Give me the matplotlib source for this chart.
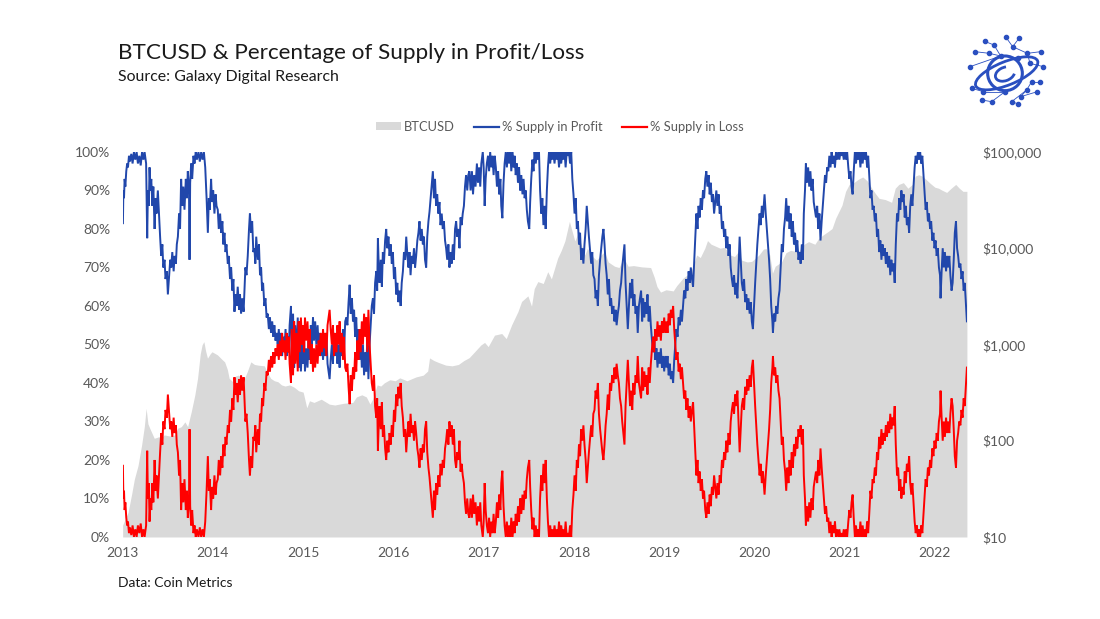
import matplotlib
matplotlib.use("Agg")
from matplotlib import pyplot as plt
from matplotlib.patches import Patch, Ellipse, Circle, Arc
from matplotlib.lines import Line2D

plt.rcParams['font.family'] = ['Lato', 'DejaVu Sans']

# ---- data ----
# time in fractional years, % of supply in profit / loss
t_pct = [
    2013.003, 2013.008, 2013.015, 2013.022, 2013.030, 2013.040, 2013.050, 2013.059, 2013.070, 2013.080,
    2013.096, 2013.110, 2013.125, 2013.140, 2013.155, 2013.169, 2013.185, 2013.200, 2013.215, 2013.230,
    2013.243, 2013.260, 2013.272, 2013.280, 2013.290, 2013.298, 2013.308, 2013.317, 2013.330, 2013.340,
    2013.354, 2013.365, 2013.375, 2013.390, 2013.400, 2013.415, 2013.427, 2013.440, 2013.450, 2013.464,
    2013.475, 2013.490, 2013.501, 2013.515, 2013.527, 2013.538, 2013.550, 2013.565, 2013.575, 2013.590,
    2013.600, 2013.612, 2013.625, 2013.636, 2013.648, 2013.660, 2013.672, 2013.685, 2013.700, 2013.712,
    2013.722, 2013.735, 2013.741, 2013.748, 2013.759, 2013.770, 2013.785, 2013.796, 2013.810, 2013.822,
    2013.840, 2013.855, 2013.870, 2013.885, 2013.900, 2013.915, 2013.930, 2013.944, 2013.955, 2013.965,
    2013.980, 2013.990, 2014.003, 2014.017, 2014.030, 2014.040, 2014.054, 2014.065, 2014.080, 2014.091,
    2014.105, 2014.115, 2014.128, 2014.140, 2014.150, 2014.165, 2014.175, 2014.190, 2014.202, 2014.215,
    2014.227, 2014.239, 2014.250, 2014.262, 2014.275, 2014.290, 2014.300, 2014.312, 2014.325, 2014.340,
    2014.349, 2014.360, 2014.372, 2014.386, 2014.400, 2014.410, 2014.423, 2014.435, 2014.448, 2014.460,
    2014.470, 2014.480, 2014.497, 2014.510, 2014.522, 2014.534, 2014.545, 2014.556, 2014.570, 2014.582,
    2014.595, 2014.607, 2014.620, 2014.632, 2014.644, 2014.657, 2014.670, 2014.681, 2014.694, 2014.706,
    2014.718, 2014.730, 2014.742, 2014.755, 2014.767, 2014.780, 2014.792, 2014.805, 2014.817, 2014.828,
    2014.840, 2014.850, 2014.865, 2014.873, 2014.888, 2014.900, 2014.912, 2014.925, 2014.940, 2014.950,
    2014.962, 2014.975, 2014.988, 2014.998, 2015.010, 2015.020, 2015.035, 2015.048, 2015.060, 2015.072,
    2015.085, 2015.097, 2015.109, 2015.120, 2015.133, 2015.146, 2015.160, 2015.172, 2015.183, 2015.195,
    2015.208, 2015.220, 2015.233, 2015.245, 2015.257, 2015.270, 2015.282, 2015.293, 2015.305, 2015.318,
    2015.330, 2015.342, 2015.355, 2015.367, 2015.380, 2015.392, 2015.404, 2015.416, 2015.429, 2015.441,
    2015.453, 2015.466, 2015.478, 2015.490, 2015.503, 2015.515, 2015.527, 2015.540, 2015.552, 2015.564,
    2015.576, 2015.588, 2015.600, 2015.612, 2015.625, 2015.637, 2015.650, 2015.662, 2015.675, 2015.687,
    2015.699, 2015.711, 2015.723, 2015.736, 2015.748, 2015.760, 2015.773, 2015.785, 2015.797, 2015.810,
    2015.820, 2015.828, 2015.838, 2015.847, 2015.860, 2015.872, 2015.883, 2015.895, 2015.908, 2015.920,
    2015.932, 2015.945, 2015.957, 2015.970, 2015.982, 2015.994, 2016.006, 2016.018, 2016.031, 2016.043,
    2016.055, 2016.068, 2016.080, 2016.092, 2016.105, 2016.117, 2016.130, 2016.142, 2016.155, 2016.167,
    2016.178, 2016.190, 2016.203, 2016.215, 2016.228, 2016.240, 2016.252, 2016.265, 2016.277, 2016.289,
    2016.301, 2016.314, 2016.326, 2016.338, 2016.350, 2016.363, 2016.375, 2016.388, 2016.400, 2016.412,
    2016.425, 2016.437, 2016.449, 2016.461, 2016.473, 2016.485, 2016.498, 2016.510, 2016.522, 2016.535,
    2016.547, 2016.559, 2016.572, 2016.584, 2016.596, 2016.609, 2016.621, 2016.633, 2016.645, 2016.658,
    2016.670, 2016.683, 2016.695, 2016.707, 2016.720, 2016.732, 2016.744, 2016.756, 2016.768, 2016.781,
    2016.793, 2016.805, 2016.818, 2016.830, 2016.842, 2016.855, 2016.870, 2016.882, 2016.895, 2016.910,
    2016.925, 2016.937, 2016.950, 2016.962, 2016.974, 2016.990, 2017.000, 2017.011, 2017.022, 2017.035,
    2017.048, 2017.060, 2017.072, 2017.085, 2017.097, 2017.110, 2017.122, 2017.135, 2017.147, 2017.160,
    2017.172, 2017.185, 2017.195, 2017.207, 2017.220, 2017.232, 2017.245, 2017.257, 2017.269, 2017.282,
    2017.295, 2017.306, 2017.320, 2017.332, 2017.343, 2017.355, 2017.368, 2017.380, 2017.392, 2017.405,
    2017.417, 2017.430, 2017.442, 2017.454, 2017.466, 2017.478, 2017.490, 2017.505, 2017.515, 2017.527,
    2017.540, 2017.552, 2017.564, 2017.577, 2017.590, 2017.601, 2017.613, 2017.625, 2017.638, 2017.650,
    2017.662, 2017.675, 2017.687, 2017.700, 2017.712, 2017.724, 2017.737, 2017.749, 2017.761, 2017.773,
    2017.785, 2017.797, 2017.810, 2017.822, 2017.835, 2017.847, 2017.859, 2017.872, 2017.884, 2017.896,
    2017.908, 2017.920, 2017.933, 2017.945, 2017.957, 2017.970, 2017.982, 2017.995, 2018.007, 2018.020,
    2018.032, 2018.044, 2018.056, 2018.068, 2018.080, 2018.092, 2018.105, 2018.117, 2018.130, 2018.142,
    2018.154, 2018.166, 2018.180, 2018.191, 2018.203, 2018.215, 2018.228, 2018.240, 2018.252, 2018.265,
    2018.277, 2018.290, 2018.302, 2018.315, 2018.327, 2018.339, 2018.351, 2018.363, 2018.375, 2018.388,
    2018.400, 2018.412, 2018.424, 2018.437, 2018.449, 2018.461, 2018.473, 2018.486, 2018.498, 2018.510,
    2018.523, 2018.535, 2018.547, 2018.560, 2018.572, 2018.585, 2018.597, 2018.610, 2018.622, 2018.634,
    2018.646, 2018.658, 2018.670, 2018.683, 2018.695, 2018.707, 2018.720, 2018.732, 2018.744, 2018.756,
    2018.767, 2018.780, 2018.792, 2018.803, 2018.815, 2018.828, 2018.840, 2018.852, 2018.865, 2018.877,
    2018.889, 2018.902, 2018.914, 2018.926, 2018.938, 2018.951, 2018.963, 2018.975, 2018.988, 2019.000,
    2019.012, 2019.025, 2019.037, 2019.050, 2019.062, 2019.074, 2019.087, 2019.099, 2019.111, 2019.123,
    2019.135, 2019.148, 2019.160, 2019.172, 2019.185, 2019.197, 2019.209, 2019.221, 2019.234, 2019.246,
    2019.258, 2019.271, 2019.283, 2019.295, 2019.308, 2019.320, 2019.333, 2019.345, 2019.357, 2019.369,
    2019.381, 2019.393, 2019.405, 2019.418, 2019.430, 2019.442, 2019.455, 2019.467, 2019.479, 2019.492,
    2019.504, 2019.516, 2019.529, 2019.541, 2019.553, 2019.566, 2019.578, 2019.590, 2019.603, 2019.615,
    2019.627, 2019.640, 2019.652, 2019.664, 2019.676, 2019.688, 2019.700, 2019.713, 2019.725, 2019.737,
    2019.750, 2019.762, 2019.774, 2019.786, 2019.799, 2019.811, 2019.823, 2019.836, 2019.848, 2019.860,
    2019.873, 2019.885, 2019.897, 2019.910, 2019.922, 2019.934, 2019.947, 2019.959, 2019.971, 2019.983,
    2019.995, 2020.008, 2020.020, 2020.032, 2020.045, 2020.057, 2020.069, 2020.082, 2020.094, 2020.112,
    2020.125, 2020.137, 2020.150, 2020.162, 2020.174, 2020.186, 2020.199, 2020.205, 2020.217, 2020.230,
    2020.242, 2020.254, 2020.266, 2020.278, 2020.290, 2020.303, 2020.315, 2020.327, 2020.340, 2020.352,
    2020.364, 2020.377, 2020.389, 2020.401, 2020.413, 2020.426, 2020.438, 2020.450, 2020.463, 2020.475,
    2020.488, 2020.500, 2020.512, 2020.525, 2020.537, 2020.547, 2020.560, 2020.570, 2020.582, 2020.595,
    2020.607, 2020.620, 2020.632, 2020.645, 2020.657, 2020.670, 2020.682, 2020.695, 2020.707, 2020.720,
    2020.732, 2020.745, 2020.757, 2020.770, 2020.782, 2020.794, 2020.806, 2020.818, 2020.830, 2020.843,
    2020.855, 2020.867, 2020.880, 2020.892, 2020.904, 2020.916, 2020.929, 2020.941, 2020.953, 2020.966,
    2020.978, 2020.990, 2021.003, 2021.015, 2021.027, 2021.040, 2021.052, 2021.064, 2021.076, 2021.088,
    2021.100, 2021.113, 2021.125, 2021.137, 2021.150, 2021.162, 2021.174, 2021.187, 2021.199, 2021.211,
    2021.223, 2021.236, 2021.248, 2021.260, 2021.272, 2021.285, 2021.297, 2021.309, 2021.321, 2021.334,
    2021.346, 2021.358, 2021.370, 2021.382, 2021.395, 2021.407, 2021.419, 2021.431, 2021.444, 2021.456,
    2021.468, 2021.480, 2021.493, 2021.505, 2021.517, 2021.529, 2021.541, 2021.554, 2021.566, 2021.580,
    2021.592, 2021.604, 2021.616, 2021.628, 2021.640, 2021.653, 2021.665, 2021.677, 2021.689, 2021.701,
    2021.714, 2021.726, 2021.738, 2021.750, 2021.762, 2021.775, 2021.787, 2021.799, 2021.811, 2021.824,
    2021.836, 2021.848, 2021.860, 2021.873, 2021.885, 2021.897, 2021.909, 2021.922, 2021.934, 2021.946,
    2021.958, 2021.971, 2021.983, 2021.995, 2022.007, 2022.019, 2022.031, 2022.044, 2022.056, 2022.062,
    2022.074, 2022.086, 2022.098, 2022.110, 2022.123, 2022.135, 2022.147, 2022.159, 2022.171, 2022.184,
    2022.196, 2022.208, 2022.220, 2022.233, 2022.245, 2022.257, 2022.269, 2022.282, 2022.294, 2022.306,
    2022.318, 2022.330, 2022.342, 2022.354,
]

supply_profit = [
    81.5, 90, 88, 93, 91, 95, 97, 96, 99, 97.5,
    99.5, 97, 100, 98, 100, 97, 99, 96.5, 100, 98,
    100, 97, 77.6, 90, 86, 96, 90, 93, 86, 91,
    80, 88, 84, 90, 85, 78, 73, 76, 70, 72,
    67, 69, 63, 68, 72, 70, 74, 69, 73, 71,
    76, 78, 84, 80, 93, 86, 91, 85, 93, 88,
    95, 90, 72, 92, 97, 93, 99, 97, 100, 98,
    100, 97.5, 100, 98, 100, 96, 88, 79, 88, 85,
    93, 87, 90, 84, 89, 86, 85, 80, 84, 79,
    82, 76, 79, 74, 76, 71, 73, 67, 70, 64,
    67, 58.5, 63, 60, 65, 59, 63, 58, 62, 58.5,
    64, 70, 68, 73, 80, 84, 79, 82, 74, 75,
    71, 78, 72, 76, 68, 70, 64, 66, 60, 62,
    57, 58, 54, 57, 53, 56, 52, 55, 51, 53,
    50, 54, 49, 53, 47, 52, 49, 54, 47, 52,
    48, 55, 60, 46, 58, 44, 55, 47, 57, 44,
    52, 43, 50, 45, 52, 43, 49, 44, 51, 46,
    55, 50, 57, 51, 56, 50, 55, 49, 53, 47,
    52, 46, 51, 47, 53, 45, 43, 41, 46, 50,
    45, 53, 47, 52, 45, 50, 44, 52, 47, 54,
    48, 56, 57, 55, 61, 65.5, 58, 62, 56, 59,
    52, 57, 49, 54, 46, 52, 44, 50, 42, 48,
    43, 52, 41, 50, 55, 60, 62, 58, 66, 69,
    64, 77.6, 70, 66, 72, 65, 74, 71, 77, 80,
    75, 78, 73, 76, 71, 74, 67, 70, 63, 66,
    61, 64, 60, 66, 69, 74, 72, 78, 73, 70,
    74, 68, 73, 71, 75, 70, 73, 77, 79, 82,
    77, 80, 76, 78, 72, 70, 78, 82, 84.5, 88,
    92, 95, 88, 93, 86, 89, 84, 87, 81, 84,
    80, 82, 77, 75, 72, 76, 70, 74, 71, 76,
    72, 80, 82, 78, 80, 75, 83, 81, 84, 86,
    91, 94, 90, 94, 95, 90, 95, 89, 94, 91,
    97, 92, 96, 91, 97, 100, 96, 86, 93, 97,
    99, 95, 100, 96, 99, 94, 99, 96, 91, 95,
    89, 93, 86, 82.8, 92, 97, 100, 96, 100, 97,
    100, 95, 100, 96, 99, 94, 97, 92, 96, 90,
    94, 89, 93, 88, 90, 85, 82, 80, 87, 93,
    98, 95, 100, 97, 100, 98, 100, 90, 84, 88,
    81, 86, 80, 90, 96, 100, 97, 100, 98, 100,
    97, 100, 98, 100, 96, 100, 97, 100, 98, 100,
    96, 100, 99, 100, 97, 100, 93, 89, 84, 88,
    80, 82, 76, 79, 72, 75, 71, 76, 80, 86,
    82, 78, 74, 71, 74, 68, 67, 62, 64, 60,
    68, 72, 75, 78, 80, 76, 71, 68, 63, 67,
    60, 62, 58, 60, 56, 59, 55, 58, 60, 64,
    66, 70, 73, 76, 66, 60, 54, 60, 66, 62,
    67, 60, 63, 58, 60, 53, 60, 62, 64, 56,
    62, 57, 61, 58, 63, 56, 60, 55, 51, 48,
    52, 46, 49, 44, 48, 45, 49, 44, 47, 43,
    47, 44, 47, 42, 45, 41, 43, 40, 46, 50,
    54, 52, 57, 55, 59, 56, 60, 64, 62, 67,
    64, 69, 66, 70, 67, 65, 72, 78, 84, 80,
    86, 83, 88, 85, 90, 88, 93, 95, 91, 94,
    89, 92, 87, 89, 84, 87, 90, 86, 89, 84,
    86, 80, 82, 78, 80, 75, 78, 73, 76, 70,
    67, 65, 68, 63, 66, 62, 70, 78, 72, 66,
    64, 67, 61, 63, 59, 62, 58, 61, 56, 54,
    60, 66, 71, 76, 80, 84, 81, 86, 83, 89,
    84, 80, 76, 72, 67, 60, 56, 53, 58, 56,
    60, 58, 62, 64, 70, 76, 74, 80, 83, 88,
    82, 86, 80, 84, 78, 82, 76, 79, 74, 77,
    72, 74, 71, 76, 72, 84, 90, 97, 92, 96,
    91, 95, 90, 93, 87, 85, 83, 86, 80, 84,
    77, 82, 86, 90, 94, 92, 96, 95, 99, 96,
    100, 97, 99, 96, 100, 98, 100, 98, 100, 99,
    100, 98, 100, 98, 100, 96, 93, 95, 91, 89,
    95, 100, 97, 100, 98, 100, 96, 100, 97, 100,
    98, 100, 96, 99, 94, 88, 90, 85, 86, 82,
    84, 78, 80, 74, 77, 72, 76, 73, 75, 71,
    74, 70, 73, 68, 72, 69, 71, 66, 76, 84,
    82, 88, 85, 90, 87, 89, 83, 86, 81, 83,
    79, 86, 89, 86, 91, 96, 99, 97, 100, 98,
    100, 97, 99, 94, 89, 85, 87, 82, 84, 80,
    82, 77, 79, 75, 77, 73, 75, 70, 68, 62,
    69, 75, 70, 74, 69, 73, 70, 73, 68, 64,
    66, 72, 79, 82, 75, 73, 70, 71, 67, 69,
    64, 66, 61, 56,
]

supply_loss = [
    18.5, 10, 12, 7, 9, 5, 3, 4, 1, 2.5,
    0.5, 3, 0, 2, 0, 3, 1, 3.5, 0, 2,
    0, 3, 22.4, 10, 14, 4, 10, 7, 14, 9,
    20, 12, 16, 10, 15, 22, 27, 24, 30, 28,
    33, 31, 37, 32, 28, 30, 26, 31, 27, 29,
    24, 22, 16, 20, 7, 14, 9, 15, 7, 12,
    5, 10, 28, 8, 3, 7, 1, 3, 0, 2,
    0, 2.5, 0, 2, 0, 4, 12, 21, 12, 15,
    7, 13, 10, 16, 11, 14, 15, 20, 16, 21,
    18, 24, 21, 26, 24, 29, 27, 33, 30, 36,
    33, 41.5, 37, 40, 35, 41, 37, 42, 38, 41.5,
    36, 30, 32, 27, 20, 16, 21, 18, 26, 25,
    29, 22, 28, 24, 32, 30, 36, 34, 40, 38,
    43, 42, 46, 43, 47, 44, 48, 45, 49, 47,
    50, 46, 51, 47, 53, 48, 51, 46, 53, 48,
    52, 45, 40, 54, 42, 56, 45, 53, 43, 56,
    48, 57, 50, 55, 48, 57, 51, 56, 49, 54,
    45, 50, 43, 49, 44, 50, 45, 51, 47, 53,
    48, 54, 49, 53, 47, 55, 57, 59, 54, 50,
    55, 47, 53, 48, 55, 50, 56, 48, 53, 46,
    52, 44, 43, 45, 39, 34.5, 42, 38, 44, 41,
    48, 43, 51, 46, 54, 48, 56, 50, 58, 52,
    57, 48, 59, 50, 45, 40, 38, 42, 34, 31,
    36, 22.4, 30, 34, 28, 35, 26, 29, 23, 20,
    25, 22, 27, 24, 29, 26, 33, 30, 37, 34,
    39, 36, 40, 34, 31, 26, 28, 22, 27, 30,
    26, 32, 27, 29, 25, 30, 27, 23, 21, 18,
    23, 20, 24, 22, 28, 30, 22, 18, 15.5, 12,
    8, 5, 12, 7, 14, 11, 16, 13, 19, 16,
    20, 18, 23, 25, 28, 24, 30, 26, 29, 24,
    28, 20, 18, 22, 20, 25, 17, 19, 16, 14,
    9, 6, 10, 6, 5, 10, 5, 11, 6, 9,
    3, 8, 4, 9, 3, 0, 4, 14, 7, 3,
    1, 5, 0, 4, 1, 6, 1, 4, 9, 5,
    11, 7, 14, 17.2, 8, 3, 0, 4, 0, 3,
    0, 5, 0, 4, 1, 6, 3, 8, 4, 10,
    6, 11, 7, 12, 10, 15, 18, 20, 13, 7,
    2, 5, 0, 3, 0, 2, 0, 10, 16, 12,
    19, 14, 20, 10, 4, 0, 3, 0, 2, 0,
    3, 0, 2, 0, 4, 0, 3, 0, 2, 0,
    4, 0, 1, 0, 3, 0, 7, 11, 16, 12,
    20, 18, 24, 21, 28, 25, 29, 24, 20, 14,
    18, 22, 26, 29, 26, 32, 33, 38, 36, 40,
    32, 28, 25, 22, 20, 24, 29, 32, 37, 33,
    40, 38, 42, 40, 44, 41, 45, 42, 40, 36,
    34, 30, 27, 24, 34, 40, 46, 40, 34, 38,
    33, 40, 37, 42, 40, 47, 40, 38, 36, 44,
    38, 43, 39, 42, 37, 44, 40, 45, 49, 52,
    48, 54, 51, 56, 52, 55, 51, 56, 53, 57,
    53, 56, 53, 58, 55, 59, 57, 60, 54, 50,
    46, 48, 43, 45, 41, 44, 40, 36, 38, 33,
    36, 31, 34, 30, 33, 35, 28, 22, 16, 20,
    14, 17, 12, 15, 10, 12, 7, 5, 9, 6,
    11, 8, 13, 11, 16, 13, 10, 14, 11, 16,
    14, 20, 18, 22, 20, 25, 22, 27, 24, 30,
    33, 35, 32, 37, 34, 38, 30, 22, 28, 34,
    36, 33, 39, 37, 41, 38, 42, 39, 44, 46,
    40, 34, 29, 24, 20, 16, 19, 14, 17, 11,
    16, 20, 24, 28, 33, 40, 44, 47, 42, 44,
    40, 42, 38, 36, 30, 24, 26, 20, 17, 12,
    18, 14, 20, 16, 22, 18, 24, 21, 26, 23,
    28, 26, 29, 24, 28, 16, 10, 3, 8, 4,
    9, 5, 10, 7, 13, 15, 17, 14, 20, 16,
    23, 18, 14, 10, 6, 8, 4, 5, 1, 4,
    0, 3, 1, 4, 0, 2, 0, 2, 0, 1,
    0, 2, 0, 2, 0, 4, 7, 5, 9, 11,
    5, 0, 3, 0, 2, 0, 4, 0, 3, 0,
    2, 0, 4, 1, 6, 12, 10, 15, 14, 18,
    16, 22, 20, 26, 23, 28, 24, 27, 25, 29,
    26, 30, 27, 32, 28, 31, 29, 34, 24, 16,
    18, 12, 15, 10, 13, 11, 17, 14, 19, 17,
    21, 14, 11, 14, 9, 4, 1, 3, 0, 2,
    0, 3, 1, 6, 11, 15, 13, 18, 16, 20,
    18, 23, 21, 25, 23, 27, 25, 30, 32, 38,
    31, 25, 30, 26, 31, 27, 30, 27, 32, 36,
    34, 28, 21, 18, 25, 27, 30, 29, 33, 31,
    36, 34, 39, 44,
]

# BTCUSD price (log scale)
t_btc = [
    2013.00, 2013.06, 2013.10, 2013.13, 2013.17, 2013.21, 2013.24, 2013.26, 2013.28, 2013.30,
    2013.35, 2013.40, 2013.43, 2013.46, 2013.52, 2013.58, 2013.61, 2013.65, 2013.69, 2013.72,
    2013.76, 2013.80, 2013.83, 2013.86, 2013.88, 2013.90, 2013.92, 2013.94, 2013.97, 2013.99,
    2014.05, 2014.10, 2014.13, 2014.16, 2014.18, 2014.22, 2014.25, 2014.28, 2014.35, 2014.38,
    2014.42, 2014.46, 2014.50, 2014.57, 2014.60, 2014.64, 2014.68, 2014.72, 2014.76, 2014.80,
    2014.85, 2014.90, 2014.95, 2015.00, 2015.04, 2015.07, 2015.12, 2015.20, 2015.29, 2015.35,
    2015.45, 2015.55, 2015.59, 2015.65, 2015.70, 2015.74, 2015.77, 2015.82, 2015.86, 2015.90,
    2015.96, 2016.02, 2016.07, 2016.15, 2016.25, 2016.33, 2016.38, 2016.40, 2016.45, 2016.50,
    2016.58, 2016.65, 2016.72, 2016.78, 2016.84, 2016.90, 2016.97, 2017.01, 2017.05, 2017.12,
    2017.20, 2017.25, 2017.31, 2017.38, 2017.42, 2017.49, 2017.53, 2017.56, 2017.60, 2017.66,
    2017.71, 2017.75, 2017.82, 2017.86, 2017.90, 2017.95, 2017.98, 2018.01, 2018.04, 2018.08,
    2018.12, 2018.15, 2018.19, 2018.25, 2018.30, 2018.34, 2018.38, 2018.45, 2018.50, 2018.55,
    2018.60, 2018.66, 2018.75, 2018.85, 2018.89, 2018.92, 2018.96, 2019.02, 2019.10, 2019.14,
    2019.21, 2019.28, 2019.32, 2019.36, 2019.40, 2019.45, 2019.48, 2019.52, 2019.57, 2019.62,
    2019.66, 2019.70, 2019.73, 2019.78, 2019.82, 2019.86, 2019.92, 2019.97, 2020.05, 2020.10,
    2020.13, 2020.17, 2020.20, 2020.23, 2020.30, 2020.35, 2020.40, 2020.45, 2020.50, 2020.55,
    2020.60, 2020.67, 2020.71, 2020.75, 2020.82, 2020.86, 2020.90, 2020.97, 2021.01, 2021.05,
    2021.10, 2021.15, 2021.20, 2021.25, 2021.30, 2021.34, 2021.38, 2021.45, 2021.52, 2021.56,
    2021.60, 2021.65, 2021.70, 2021.75, 2021.78, 2021.82, 2021.86, 2021.90, 2021.95, 2022.00,
    2022.04, 2022.08, 2022.13, 2022.18, 2022.23, 2022.27, 2022.31, 2022.354,
]

btc_price = [
    13.3, 18, 28, 40, 55, 90, 140, 217, 150, 135,
    106, 110, 106, 115, 112, 115, 135, 140, 157, 140,
    200, 300, 445, 800, 990, 1070, 850, 720, 800, 840,
    780, 700, 660, 550, 445, 410, 470, 480, 445, 520,
    660, 620, 610, 600, 520, 445, 420, 410, 380, 370,
    380, 360, 330, 320, 220, 260, 250, 270, 240, 235,
    245, 250, 285, 300, 285, 240, 270, 380, 370, 400,
    430, 420, 450, 420, 460, 480, 530, 725, 680, 650,
    610, 600, 620, 680, 730, 840, 990, 1050, 950, 1250,
    1300, 1150, 1600, 2200, 2800, 3200, 2500, 3800, 4500, 4300,
    5700, 4800, 7900, 9500, 11900, 19000, 15000, 11900, 14000, 11000,
    8500, 10000, 8500, 7500, 8500, 9200, 7200, 6500, 6300, 8000,
    6500, 6600, 6400, 6300, 5000, 4000, 3500, 3700, 3600, 4100,
    4900, 5500, 6500, 8500, 8000, 10000, 12000, 11000, 10500, 10000,
    10200, 9500, 8500, 8200, 9200, 7500, 7200, 7300, 8500, 9800,
    9900, 8500, 5500, 6500, 7200, 9000, 9500, 9300, 9400, 11000,
    11700, 11000, 12600, 13500, 15000, 16000, 20500, 28000, 39000, 46000,
    48000, 52000, 55000, 50000, 42000, 37000, 33000, 32000, 30000, 42000,
    46000, 48000, 42000, 46000, 56000, 58000, 56000, 52000, 47000, 43000,
    42000, 40000, 38000, 42000, 46000, 42000, 39000, 39000,
]

years = list(range(2013, 2023))
pct_ticks = list(range(0, 101, 10))
price_ticks = [10, 100, 1000, 10000, 100000]

series_labels = ["BTCUSD", "% Supply in Profit", "% Supply in Loss"]

# ---- figure ----
grey_txt = "#595959"
blue = "#2147ab"
red = "#ff0000"
area = "#d9d9d9"

fig = plt.figure(figsize=(11, 6.19), dpi=100)
ax = fig.add_axes([0.1115, 0.1325, 0.7675, 0.622])
ax2 = ax.twinx()   # percent axis, drawn on top of the price area

# price area on the log axis (drawn underneath)
ax.fill_between(t_btc, 10, btc_price, color=area, lw=0, zorder=1)
ax.set_yscale('log')
ax.set_ylim(10, 100000)
ax.set_xlim(2013, 2022.354)
ax.set_yticks(price_ticks)
ax.set_yticklabels(["${:,}".format(v) for v in price_ticks])
ax.minorticks_off()
ax.set_xticks(years)
ax.set_xticklabels([str(y) for y in years])
ax.tick_params(axis='x', length=0, pad=7, labelsize=10, labelcolor=grey_txt)
ax.tick_params(axis='y', length=0, pad=11, labelsize=10, labelcolor=grey_txt,
               left=False, labelleft=False, right=True, labelright=True)

# supply percentages
ax2.plot(t_pct, supply_profit, color=blue, lw=1.4, solid_joinstyle='miter')
ax2.plot(t_pct, supply_loss, color=red, lw=1.4, solid_joinstyle='miter')
ax2.set_ylim(0, 100)
ax2.set_yticks(pct_ticks)
ax2.set_yticklabels(["{}%".format(v) for v in pct_ticks])
ax2.tick_params(axis='y', length=0, pad=9, labelsize=10, labelcolor=grey_txt,
                right=False, labelright=False, left=True, labelleft=True)

for a in (ax, ax2):
    for s in a.spines.values():
        s.set_visible(False)

# legend
handles = [Patch(facecolor=area, edgecolor='none'),
           Line2D([], [], color=blue, lw=1.6),
           Line2D([], [], color=red, lw=1.6)]
fig.legend(handles, series_labels, loc='center', bbox_to_anchor=(0.509, 0.795),
           ncol=3, frameon=False, fontsize=9.3, labelcolor=grey_txt,
           handlelength=1.9, handleheight=0.55, handletextpad=0.25, columnspacing=1.5)

# titles and notes
fig.text(118 / 1100, 1 - 53 / 619, "BTCUSD & Percentage of Supply in Profit/Loss",
         fontsize=16.2, color='#1a1a1a', va='center', ha='left')
fig.text(118 / 1100, 1 - 77 / 619, "Source: Galaxy Digital Research",
         fontsize=11.4, color='#1a1a1a', va='center', ha='left')
fig.text(118 / 1100, 1 - 583 / 619, "Data: Coin Metrics",
         fontsize=10, color='#1a1a1a', va='center', ha='left')

# logo (rough network / orbit mark)
lg = fig.add_axes([950 / 1100, 1 - 120 / 619, 120 / 1100, 100 / 619])
lg.set_xlim(0, 360)
lg.set_ylim(300, 0)
lg.set_aspect('equal')
lg.axis('off')
logo_blue = "#2a4fc0"
nodes = [(168, 52), (207, 55), (104, 64), (132, 75), (188, 80), (232, 100), (272, 95),
         (75, 95), (118, 100), (152, 108), (205, 115), (60, 140), (280, 140), (240, 130),
         (270, 185), (245, 185), (65, 205), (100, 215), (165, 215), (230, 210), (212, 230),
         (262, 215), (95, 240), (125, 245), (185, 245), (205, 252)]
links = [(0, 4), (1, 4), (2, 3), (3, 9), (4, 5), (5, 6), (7, 8), (8, 9), (11, 9), (12, 13),
         (13, 5), (14, 15), (15, 19), (16, 17), (17, 18), (19, 20), (20, 21), (22, 23),
         (23, 18), (24, 25), (24, 19)]
for i, j in links:
    lg.plot([nodes[i][0], nodes[j][0]], [nodes[i][1], nodes[j][1]], color=logo_blue, lw=0.6)
lg.scatter([n[0] for n in nodes], [n[1] for n in nodes], s=9, color=logo_blue, zorder=3)
lg.add_patch(Ellipse((170, 160), 200, 70, angle=-22, fill=False, ec=logo_blue, lw=2.0))
lg.add_patch(Circle((165, 160), 52, fill=False, ec=logo_blue, lw=2.2))
lg.add_patch(Arc((165, 162), 60, 40, angle=-22, theta1=20, theta2=300, ec=logo_blue, lw=2.0))

fig.savefig("out.png", dpi=100, facecolor='white')
